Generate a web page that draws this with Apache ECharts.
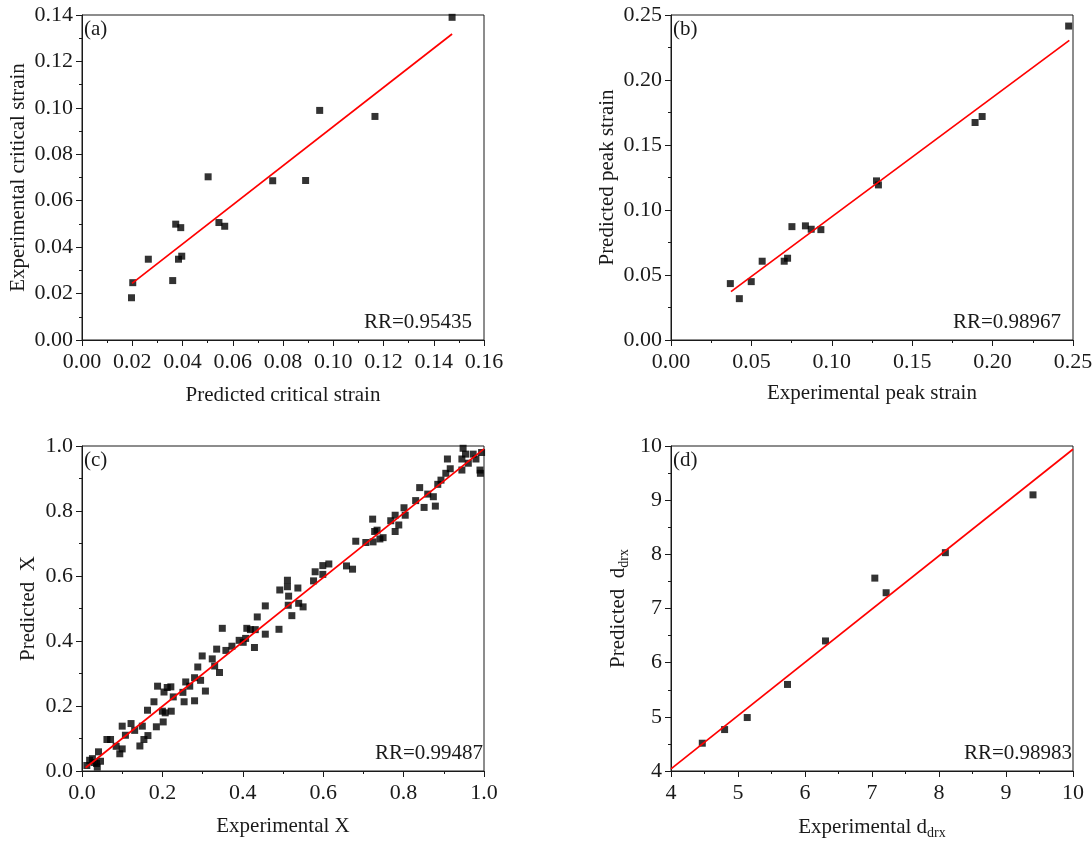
<!DOCTYPE html>
<html><head><meta charset="utf-8">
<script src="https://cdn.jsdelivr.net/npm/echarts@6/dist/echarts.min.js"></script>
<style>html,body{margin:0;padding:0;background:#fff}#c{width:1092px;height:843px}</style>
</head><body><div id="c"></div>
<script>
// Panel (a): predicted vs experimental critical strain
const aPredicted = [0.0197,0.0202,0.0264,0.0361,0.0373,0.0393,0.0384,0.0397,0.0502,0.0545,0.0568,0.0759,0.0890,0.0946,0.1166,0.1473];
const aExperimental = [0.0182,0.0247,0.0348,0.0256,0.0499,0.0484,0.0348,0.0361,0.0703,0.0506,0.0490,0.0686,0.0687,0.0989,0.0963,0.1390];
const aFitX = [0.0199,0.1473];
const aFitY = [0.0244,0.1318];
// Panel (b): experimental vs predicted peak strain
const bExperimental = [0.0369,0.0425,0.0499,0.0567,0.0704,0.0725,0.0752,0.0836,0.0872,0.0932,0.1278,0.1290,0.1891,0.1935,0.2473];
const bPredicted = [0.0434,0.0318,0.0449,0.0606,0.0606,0.0629,0.0872,0.0878,0.0852,0.0849,0.1224,0.1193,0.1673,0.1719,0.2415];
const bFitX = [0.0373,0.2477];
const bFitY = [0.0372,0.2305];
// Panel (c): experimental vs predicted X
const cExperimental = [0.012,0.019,0.026,0.036,0.038,0.041,0.046,0.030,0.062,0.071,0.085,0.094,0.100,0.100,0.108,0.122,0.131,0.144,0.150,0.154,0.164,0.163,0.179,0.185,0.188,0.200,0.202,0.204,0.207,0.212,0.221,0.222,0.227,0.251,0.254,0.258,0.268,0.280,0.280,0.288,0.295,0.299,0.307,0.324,0.330,0.335,0.342,0.349,0.358,0.373,0.391,0.401,0.407,0.410,0.419,0.429,0.431,0.436,0.456,0.456,0.490,0.492,0.511,0.511,0.514,0.513,0.522,0.537,0.539,0.550,0.576,0.580,0.599,0.599,0.614,0.658,0.673,0.681,0.706,0.723,0.724,0.728,0.734,0.741,0.749,0.768,0.779,0.779,0.788,0.801,0.804,0.830,0.840,0.851,0.860,0.874,0.879,0.885,0.893,0.905,0.909,0.916,0.945,0.945,0.948,0.954,0.961,0.973,0.980,0.990,0.991,0.994];
const cPredicted = [0.017,0.033,0.038,0.023,0.012,0.059,0.030,0.026,0.097,0.097,0.076,0.053,0.068,0.138,0.110,0.146,0.125,0.077,0.138,0.097,0.109,0.187,0.213,0.136,0.261,0.184,0.151,0.243,0.179,0.257,0.259,0.184,0.228,0.242,0.213,0.274,0.261,0.216,0.287,0.320,0.279,0.354,0.246,0.345,0.323,0.375,0.303,0.439,0.371,0.384,0.402,0.396,0.408,0.439,0.435,0.380,0.435,0.474,0.508,0.421,0.436,0.557,0.587,0.567,0.538,0.510,0.478,0.563,0.516,0.505,0.585,0.613,0.605,0.632,0.637,0.631,0.621,0.707,0.703,0.775,0.705,0.737,0.741,0.714,0.718,0.770,0.787,0.737,0.757,0.810,0.787,0.832,0.872,0.811,0.852,0.844,0.815,0.882,0.895,0.916,0.960,0.930,0.926,0.960,0.993,0.975,0.947,0.975,0.960,0.926,0.916,0.980];
const cFitX = [0.009,1.0];
const cFitY = [0.010,0.991];
// Panel (d): experimental vs predicted d_drx
const dExperimental = [4.467,4.80,5.138,5.739,6.306,7.042,7.211,8.095,9.403];
const dPredicted = [4.513,4.765,4.987,5.598,6.401,7.561,7.291,8.031,9.098];
const dFitX = [4,10];
const dFitY = [4.04,9.94];

const panelTags = ['(a)','(b)','(c)','(d)'];
const rrTexts = ['RR=0.95435','RR=0.98967','RR=0.99487','RR=0.98983'];
const xNames = ['Predicted critical strain','Experimental peak strain','Experimental X','Experimental d{sub|drx}'];
const yNames = ['Experimental critical strain','Predicted peak strain','Predicted  X','Predicted  d{sub|drx}'];
const xRanges = [[0,0.16,0.02],[0,0.25,0.05],[0,1,0.2],[4,10,1]];
const yRanges = [[0,0.14,0.02],[0,0.25,0.05],[0,1,0.2],[4,10,1]];
const decimals = [2,2,1,0];

const FONT = '"Liberation Serif","Times New Roman",serif';
const INK = '#1a1a1a';
const grids = [
  {left:82, top:15, width:402, height:325},
  {left:671, top:15, width:402, height:325},
  {left:82, top:446, width:402, height:325},
  {left:671, top:446, width:402, height:325}
];
const xGaps = [45,43,45,43];
const yGaps = [53,53,43,40];

function pairs(xs, ys){ return xs.map((x,i)=>[x, ys[i]]); }
const scatterData = [pairs(aPredicted,aExperimental), pairs(bExperimental,bPredicted), pairs(cExperimental,cPredicted), pairs(dExperimental,dPredicted)];
const fitData = [pairs(aFitX,aFitY), pairs(bFitX,bFitY), pairs(cFitX,cFitY), pairs(dFitX,dFitY)];

const rich = {sub:{fontFamily:FONT, fontSize:14, color:INK, verticalAlign:'bottom', padding:[12,0,0,0]}};

function axisCommon(range, dec, name, gap, isX){
  return {
    type:'value', min:range[0], max:range[1], interval:range[2],
    name:name, nameLocation:'middle', nameGap:gap,
    nameTextStyle:{fontFamily:FONT, fontSize:21, color:INK, rich:rich},
    axisLine:{show:true, onZero:false, lineStyle:{color:INK, width:1}},
    axisTick:{show:true, inside:false, length:6, lineStyle:{color:INK}},
    minorTick:{show:true, splitNumber:2, length:3, lineStyle:{color:INK}},
    splitLine:{show:false},
    axisLabel:{fontFamily:FONT, fontSize:22, color:INK, margin:isX?11:9, showMinLabel:true, showMaxLabel:true,
      formatter:v=>Number(v).toFixed(dec)}
  };
}

const option = {
  animation:false,
  backgroundColor:'#fff',
  grid: grids.map(g=>Object.assign({show:true, borderColor:INK, borderWidth:1, containLabel:false, outerBoundsMode:'none'}, g)),
  xAxis: grids.map((g,i)=>Object.assign(axisCommon(xRanges[i],decimals[i],xNames[i],xGaps[i],true),{gridIndex:i})),
  yAxis: grids.map((g,i)=>Object.assign(axisCommon(yRanges[i],decimals[i],yNames[i],yGaps[i],false),{gridIndex:i})),
  series: [],
  graphic: []
};
for(let i=0;i<4;i++){
  option.series.push({type:'scatter', xAxisIndex:i, yAxisIndex:i, data:scatterData[i], symbol:'rect', symbolSize:7, itemStyle:{color:'#000'}, z:3});
  option.series.push({type:'line', xAxisIndex:i, yAxisIndex:i, data:fitData[i], showSymbol:false, symbol:'none', lineStyle:{color:'#ff0000', width:1.7}, z:4});
  const g = grids[i];
  option.graphic.push({type:'text', left:g.left+2, top:g.top+4, style:{text:panelTags[i], font:'21px '+FONT, fill:INK}});
  option.graphic.push({type:'text', right:1092-(g.left+g.width)+ (i>=2?1:12), top:g.top+g.height-28, style:{text:rrTexts[i], font:'21px '+FONT, fill:INK}});
}
const chart = echarts.init(document.getElementById('c'), null, {renderer:'canvas'});
chart.setOption(option);
</script></body></html>
